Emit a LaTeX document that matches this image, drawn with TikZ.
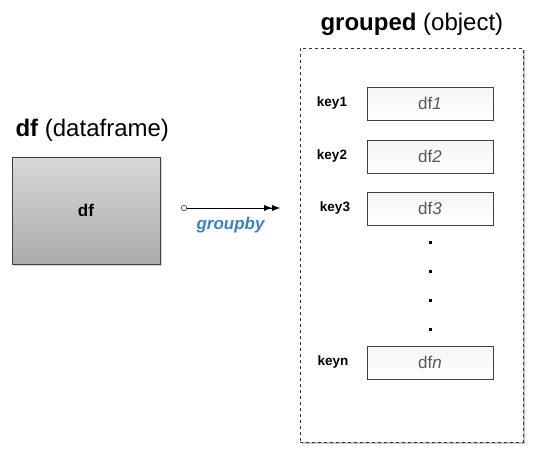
\documentclass[tikz,border=0pt]{standalone}
\usepackage{fontspec}
\setmainfont{Liberation Sans}
\usetikzlibrary{arrows.meta,shadows}
\definecolor{gbblue}{HTML}{3A80CC}
\begin{document}
\begin{tikzpicture}[x=1pt,y=-1pt,
        title/.style={anchor=west, font=\fontsize{24}{28}\selectfont},
        dfbox/.style={draw=black!75, top color=black!15, bottom color=black!33,
            minimum width=148pt, minimum height=107pt,
            drop shadow={shadow xshift=1.5pt, shadow yshift=-1.5pt, opacity=0.35}},
        groupbox/.style={draw=black!80, dashed, fill=white,
            minimum width=223pt, minimum height=394pt,
            drop shadow={shadow xshift=1.5pt, shadow yshift=-2pt, opacity=0.45}},
        part/.style={draw=black!75, top color=black!4, bottom color=white, text=black!65,
            minimum width=126pt, minimum height=33pt, font=\fontsize{17}{20}\selectfont,
            drop shadow={shadow xshift=1pt, shadow yshift=-1pt, opacity=0.15}},
        keylbl/.style={font=\bfseries\fontsize{13.5}{16}\selectfont}]
    \useasboundingbox (0, 0) rectangle (544, 466);

    % ---df
    \node[title] (dftitle) at (12, 130) {\textbf{df} (dataframe)};
    \node[dfbox, font=\bfseries\fontsize{17}{20}\selectfont] (df) at (86, 210.5) {df};

    % ---groupby
    \coordinate (gbstart) at (181, 208);
    \coordinate (gbend) at (280, 208);
    \draw[thin, {Circle[open, length=6pt, width=6pt]}-{Latex[length=8pt, width=6pt]Latex[length=8pt, width=6pt]}]
        (gbstart) -- (gbend)
        node[midway, below=6pt, text=gbblue, font=\bfseries\itshape\fontsize{17}{20}\selectfont] (gblabel) {groupby};

    % ---grouped
    \node[title] (grtitle) at (317, 24) {\textbf{grouped} (object)};
    \node[groupbox] (grouped) at (411.5, 245) {};

    \foreach \k/\y/\x in {1/103.5/332, 2/156.5/332, 3/208.5/335, n/362.5/333} {
        \node[keylbl] (key\k) at (\x, \y) {key\k};
        \node[part] (df\k) at (430, \y) {df\textit{\k}};
    }

    \foreach \y in {242, 271, 300, 329}
        \fill (428.5, \y - 1.5) rectangle ++(3, 3);

\end{tikzpicture}
\end{document}
